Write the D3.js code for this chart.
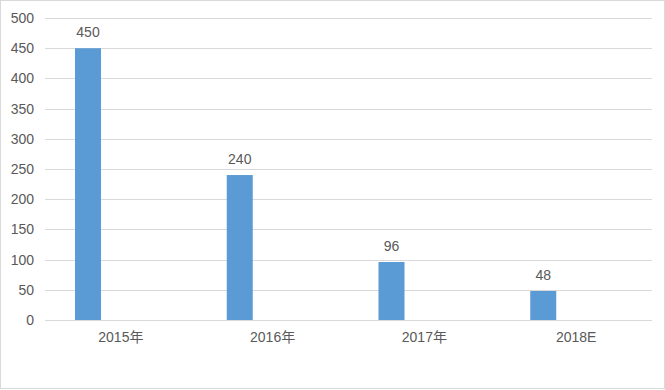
<!DOCTYPE html>
<html><head><meta charset="utf-8">
<script src="https://cdn.jsdelivr.net/npm/d3@7"></script>
<style>body{margin:0;background:#fff}</style>
</head><body>
<svg id="c" width="665" height="390"></svg>
<script>
const categories = ["2015年","2016年","2017年","2018E"];
const values = [450, 240, 96, 48];
const yTicks = [0,50,100,150,200,250,300,350,400,450,500];

const svg = d3.select("#c");
const font = "'Liberation Sans','Noto Sans CJK SC',sans-serif";
svg.append("rect").attr("x",0.5).attr("y",0.5).attr("width",664).attr("height",388)
  .attr("fill","#fff").attr("stroke","#d9d9d9");

const x = d3.scaleBand().domain(categories).range([45, 652]);
const y = d3.scaleLinear().domain([0,500]).range([320, 18]);

// gridlines
svg.append("g").selectAll("line").data(yTicks).join("line")
  .attr("x1",45).attr("x2",652)
  .attr("y1",d=>Math.round(y(d))+0.5).attr("y2",d=>Math.round(y(d))+0.5)
  .attr("stroke","#d9d9d9").attr("stroke-width",1);

// y axis labels
const yAxis = d3.axisLeft(y).tickValues(yTicks).tickSize(0).tickPadding(11);
const gy = svg.append("g").attr("transform","translate(45,0)").call(yAxis);
gy.select(".domain").remove();
gy.selectAll("text").attr("font-family",font).attr("font-size",14).attr("fill","#595959");

const barW = 26, barOff = 30;
svg.append("g").selectAll("rect").data(values).join("rect")
  .attr("x",(d,i)=>x(categories[i])+barOff)
  .attr("y",d=>y(d))
  .attr("width",barW)
  .attr("height",d=>y(0)-y(d))
  .attr("fill","#5b9bd5");

svg.append("g").selectAll("text").data(values).join("text")
  .attr("x",(d,i)=>x(categories[i])+barOff+barW/2)
  .attr("y",d=>y(d)-11)
  .attr("text-anchor","middle")
  .attr("font-family",font).attr("font-size",14).attr("fill","#595959")
  .text(d=>d);

// x axis labels
const xAxis = d3.axisBottom(x).tickSize(0).tickPadding(12);
const gx = svg.append("g").attr("transform","translate(0,320)").call(xAxis);
gx.select(".domain").remove();
gx.selectAll("text").attr("font-family",font).attr("font-size",14).attr("fill","#595959");
</script>
</body></html>
